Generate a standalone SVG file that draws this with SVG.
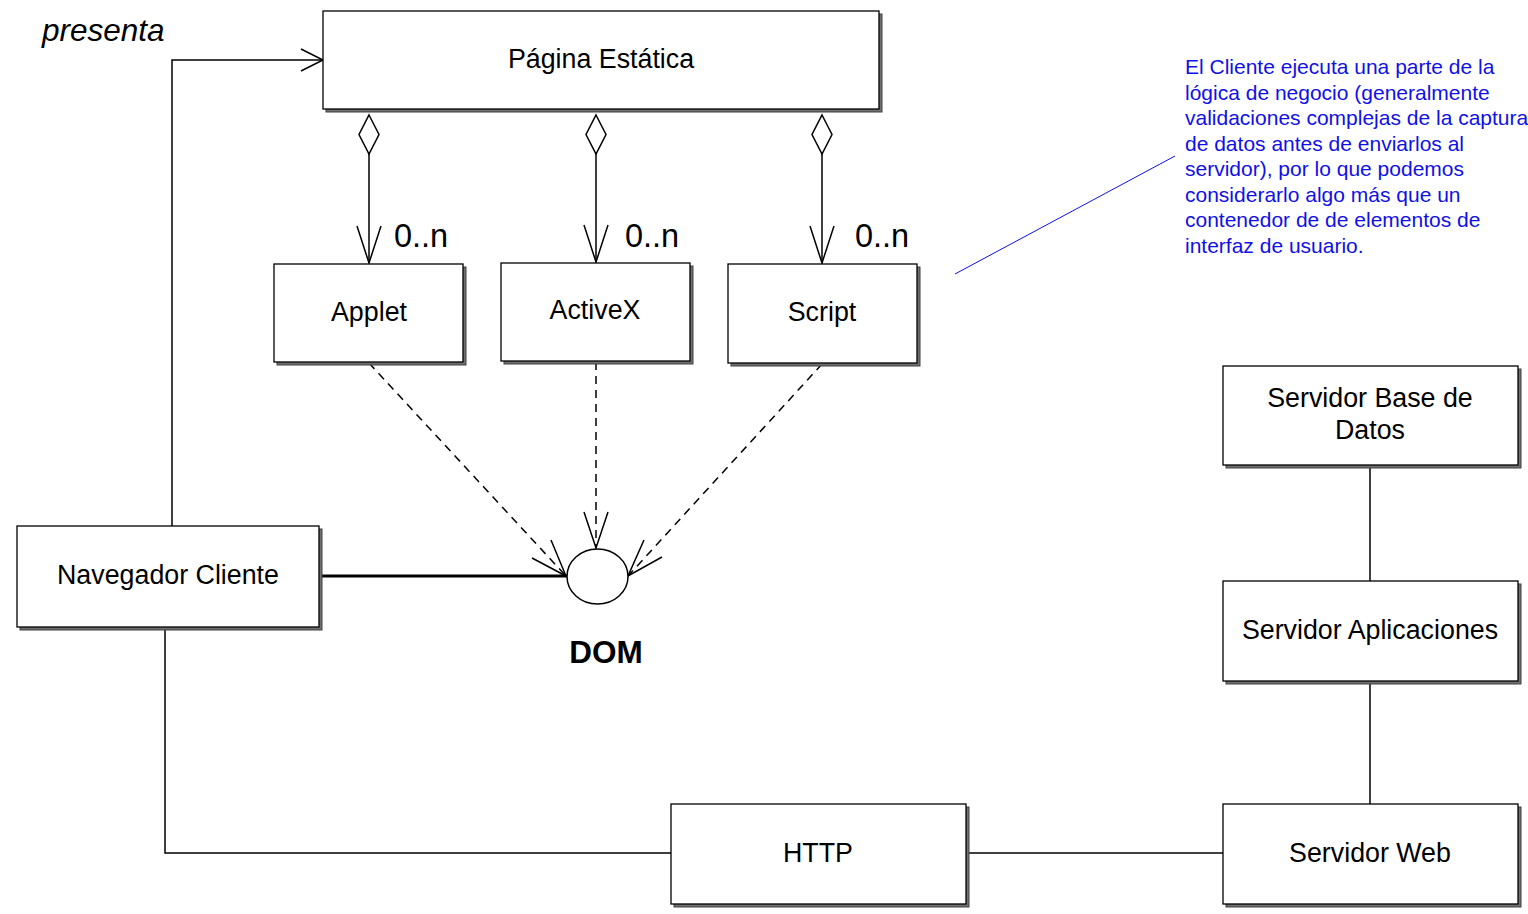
<svg xmlns="http://www.w3.org/2000/svg" width="1528" height="914" viewBox="0 0 1528 914">
<style>
.sh{fill:#707070;stroke:#404040;stroke-width:1}
.bx{fill:#fff;stroke:#000;stroke-width:1.3}
.t{font-family:"Liberation Sans",Arial,sans-serif;font-size:26.8px;fill:#000;text-anchor:middle}
.c{fill:none;stroke:#000;stroke-width:1.5}
.d{fill:none;stroke:#000;stroke-width:1.5;stroke-dasharray:8,6}
.ah{fill:none;stroke:#000;stroke-width:1.5}
.dia{fill:#fff;stroke:#000;stroke-width:1.5}
.note{font-family:"Liberation Sans",Arial,sans-serif;font-size:21px;fill:#1010e8}
</style>
<rect width="1528" height="914" fill="#fff"/>
<g id="connectors">
  <polyline class="c" points="172,526 172,60 323,60"/>
  <polyline class="ah" points="301,49 323,60 301,71"/>
  <line class="c" x1="369" y1="154" x2="369" y2="263"/>
  <polygon class="dia" points="369,115 379,134.5 369,154 359,134.5"/>
  <polyline class="ah" points="357,226 369,263 381,226"/>
  <line class="c" x1="596" y1="154" x2="596" y2="262"/>
  <polygon class="dia" points="596,115 606,134.5 596,154 586,134.5"/>
  <polyline class="ah" points="584,225 596,262 608,225"/>
  <line class="c" x1="822" y1="154" x2="822" y2="263"/>
  <polygon class="dia" points="822,115 832,134.5 822,154 812,134.5"/>
  <polyline class="ah" points="810,226 822,263 834,226"/>
  <line class="d" x1="369" y1="363" x2="566" y2="576"/>
  <polyline class="ah" points="551,540 566,576 532,558"/>
  <line class="d" x1="596" y1="362" x2="596" y2="548"/>
  <polyline class="ah" points="584,512 596,548 608,512"/>
  <line class="d" x1="822" y1="364" x2="628" y2="576"/>
  <polyline class="ah" points="644,540 628,576 662,557"/>
  <line x1="320" y1="576" x2="567" y2="576" stroke="#000" stroke-width="3"/>
  <polyline class="c" points="165,628 165,853 671,853"/>
  <line class="c" x1="967" y1="853" x2="1223" y2="853"/>
  <line class="c" x1="1370" y1="466" x2="1370" y2="581"/>
  <line class="c" x1="1370" y1="682" x2="1370" y2="804"/>
  <line x1="955" y1="274" x2="1175" y2="156" stroke="#1010e8" stroke-width="1"/>
</g>
<text x="42" y="41" font-family="'Liberation Sans',Arial,sans-serif" font-size="31.5" font-style="italic">presenta</text>
<g id="n_pagina">
  <rect class="sh" x="326" y="14" width="556" height="98"/>
  <rect class="bx" x="323" y="11" width="556" height="98"/>
  <text class="t" x="601" y="68">Página Estática</text>
</g>
<g id="n_applet">
  <rect class="sh" x="277" y="267" width="189" height="98"/>
  <rect class="bx" x="274" y="264" width="189" height="98"/>
  <text class="t" x="369" y="321">Applet</text>
</g>
<g id="n_activex">
  <rect class="sh" x="504" y="266" width="189" height="98"/>
  <rect class="bx" x="501" y="263" width="189" height="98"/>
  <text class="t" x="595" y="319">ActiveX</text>
</g>
<g id="n_script">
  <rect class="sh" x="731" y="267" width="189" height="99"/>
  <rect class="bx" x="728" y="264" width="189" height="99"/>
  <text class="t" x="822" y="321">Script</text>
</g>
<text class="t" x="421" y="247" style="font-size:32.5px">0..n</text>
<text class="t" x="652" y="247" style="font-size:32.5px">0..n</text>
<text class="t" x="882" y="247" style="font-size:32.5px">0..n</text>
<g id="n_navegador">
  <rect class="sh" x="20" y="529" width="302" height="101"/>
  <rect class="bx" x="17" y="526" width="302" height="101"/>
  <text class="t" x="168" y="584">Navegador Cliente</text>
</g>
<g id="n_dom">
  <ellipse cx="597.5" cy="576.5" rx="30.5" ry="27.5" fill="#fff" stroke="#000" stroke-width="1.5"/>
  <text class="t" x="606" y="663" style="font-weight:bold;font-size:31.5px">DOM</text>
</g>
<g id="n_bd">
  <rect class="sh" x="1226" y="369" width="295" height="99"/>
  <rect class="bx" x="1223" y="366" width="295" height="99"/>
  <text class="t" x="1370" y="407">Servidor Base de</text>
  <text class="t" x="1370" y="439">Datos</text>
</g>
<g id="n_app">
  <rect class="sh" x="1226" y="584" width="295" height="100"/>
  <rect class="bx" x="1223" y="581" width="295" height="100"/>
  <text class="t" x="1370" y="639">Servidor Aplicaciones</text>
</g>
<g id="n_web">
  <rect class="sh" x="1226" y="807" width="295" height="100"/>
  <rect class="bx" x="1223" y="804" width="295" height="100"/>
  <text class="t" x="1370" y="862">Servidor Web</text>
</g>
<g id="n_http">
  <rect class="sh" x="674" y="807" width="295" height="100"/>
  <rect class="bx" x="671" y="804" width="295" height="100"/>
  <text class="t" x="818" y="862">HTTP</text>
</g>
<g id="note">
  <text class="note" x="1185" y="74">El Cliente ejecuta una parte de la</text>
  <text class="note" x="1185" y="99.5">lógica de negocio (generalmente</text>
  <text class="note" x="1185" y="125">validaciones complejas de la captura</text>
  <text class="note" x="1185" y="150.5">de datos antes de enviarlos al</text>
  <text class="note" x="1185" y="176">servidor), por lo que podemos</text>
  <text class="note" x="1185" y="201.5">considerarlo algo más que un</text>
  <text class="note" x="1185" y="227">contenedor de de elementos de</text>
  <text class="note" x="1185" y="252.5">interfaz de usuario.</text>
</g>
</svg>
